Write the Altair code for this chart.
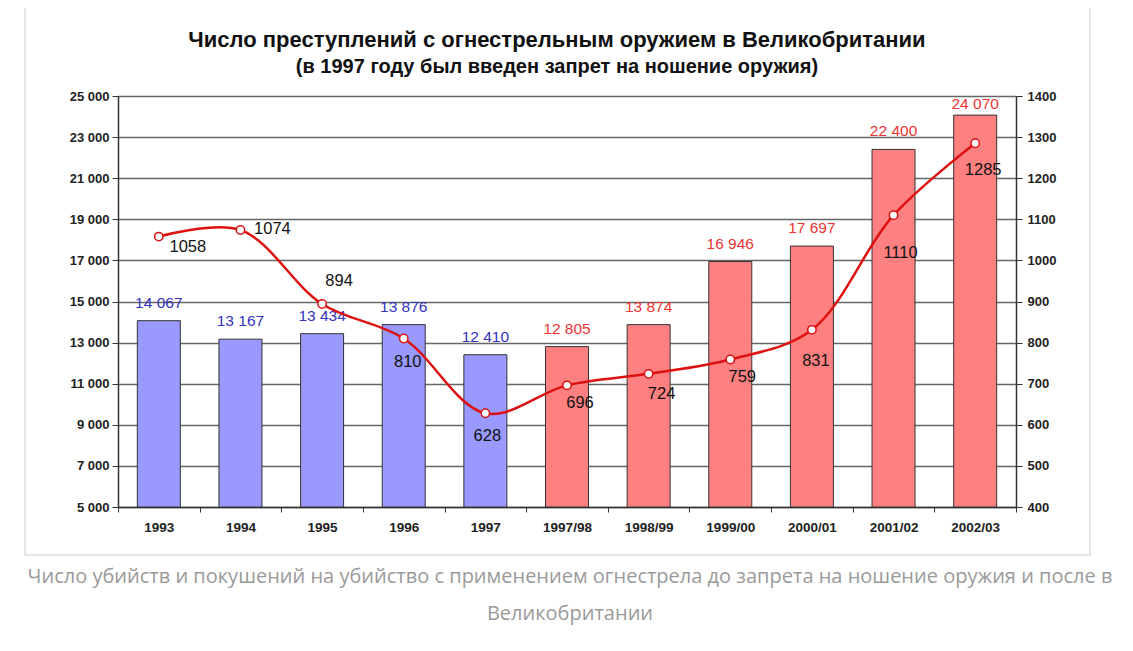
import altair as alt
import pandas as pd

periods = ["1993", "1994", "1995", "1996", "1997", "1997/98", "1998/99",
           "1999/00", "2000/01", "2001/02", "2002/03"]
offences = [14067, 13167, 13434, 13876, 12410, 12805, 13874, 16946, 17697, 22400, 24070]
homicides = [1058, 1074, 894, 810, 628, 696, 724, 759, 831, 1110, 1285]
phase = ["before"] * 5 + ["after"] * 6
left_ticks = list(range(5000, 25001, 2000))
right_ticks = list(range(400, 1401, 100))

title_lines = ["Число преступлений с огнестрельным оружием в Великобритании",
               "(в 1997 году был введен запрет на ношение оружия)"]
caption_lines = ["Число убийств и покушений на убийство с применением огнестрела до запрета на ношение оружия и после в",
                 "Великобритании"]

# label offsets (style config, not data)
line_label_offsets = {
    "1993": (29, 10), "1994": (32, -1), "1995": (17, -23), "1996": (4, 24),
    "1997": (2, 23), "1997/98": (13, 18), "1998/99": (13, 20), "1999/00": (12, 18),
    "2000/01": (4, 31), "2001/02": (7, 38), "2002/03": (8, 27),
}
bar_label_dy = {"default": -18, "2002/03": -11}

W, H = 898, 411
FONT = "Liberation Sans"

df = pd.DataFrame({
    "period": periods,
    "offences": offences,
    "homicides": homicides,
    "phase": phase,
})
df["offences_label"] = [f"{v:,}".replace(",", " ") for v in offences]
df["homicides_label"] = [str(v) for v in homicides]

x_enc = alt.X(
    "period:N", sort=periods,
    scale=alt.Scale(paddingInner=0, paddingOuter=0),
    axis=alt.Axis(title=None, labelAngle=0, tickBand="extent", grid=False,
                  labelFont=FONT, labelFontWeight="bold", labelFontSize=13.5,
                  labelColor="#222", domainColor="#333", tickColor="#333",
                  tickSize=5, labelPadding=8, domainWidth=1.5),
)

y_left = alt.Y(
    "offences:Q",
    scale=alt.Scale(domain=[5000, 25000], zero=False, nice=False),
    axis=alt.Axis(title=None, values=left_ticks, grid=True, gridColor="#666",
                  gridWidth=1.5, labelExpr="replace(format(datum.value, ','), ',', ' ')",
                  labelFont=FONT, labelFontWeight="bold", labelFontSize=13,
                  labelColor="#222", domainColor="#333", tickColor="#333",
                  tickSize=6, labelPadding=3, domainWidth=1.5),
)

y_right = alt.Y(
    "homicides:Q",
    scale=alt.Scale(domain=[400, 1400], zero=False, nice=False),
    axis=alt.Axis(title=None, orient="right", values=right_ticks, grid=False, format="d",
                  labelFont=FONT, labelFontWeight="bold", labelFontSize=13,
                  labelColor="#222", domainColor="#333", tickColor="#333",
                  tickSize=6, labelPadding=5, domainWidth=1.5),
)

base = alt.Chart(df)
one = pd.DataFrame({"a": [0]})

frame = alt.Chart(one).mark_rect(
    fill="white", fillOpacity=0, stroke="#dddddd", strokeWidth=1.5
).encode(x=alt.value(-93), x2=alt.value(972), y=alt.value(-120), y2=alt.value(459))

bars = base.mark_bar(size=43, stroke="#333", strokeWidth=1).encode(
    x=x_enc, y=y_left, y2=alt.datum(5000),
    color=alt.Color("phase:N", scale=alt.Scale(domain=["before", "after"],
                                               range=["#9999ff", "#ff8080"]),
                    legend=None),
)

special = [k for k in bar_label_dy if k != "default"]
bar_label_color = alt.condition(alt.datum.phase == "before", alt.value("#3333bb"),
                                alt.value("#ee3333"))
bar_labels = [
    base.transform_filter(~alt.FieldOneOfPredicate(field="period", oneOf=special)).mark_text(
        font=FONT, fontSize=15.5, baseline="middle", dy=bar_label_dy["default"]
    ).encode(x=x_enc, y=y_left, text="offences_label:N", color=bar_label_color)
] + [
    base.transform_filter(alt.datum.period == p).mark_text(
        font=FONT, fontSize=15.5, baseline="middle", dy=bar_label_dy[p]
    ).encode(x=x_enc, y=y_left, text="offences_label:N", color=bar_label_color)
    for p in special
]

title = [
    alt.Chart(pd.DataFrame({"t": [t]})).mark_text(
        font=FONT, fontSize=fs, fontWeight="bold", color="#111", align="center",
        baseline="middle"
    ).encode(text="t:N", x=alt.value(xx), y=alt.value(yy))
    for t, yy, fs, xx in zip(title_lines, [-56, -29], [22, 20], [439, 439])
]

caption = [
    alt.Chart(pd.DataFrame({"t": [t]})).mark_text(
        font="Open Sans", fontSize=20, color="#9a9a9a", align="center", baseline="middle"
    ).encode(text="t:N", x=alt.value(452), y=alt.value(yy))
    for t, yy in zip(caption_lines, [481, 518])
]

left = alt.layer(frame, bars, *bar_labels, *title, *caption)

line = base.mark_line(color="#dd1111", strokeWidth=2.5, interpolate="catmull-rom").encode(
    x=x_enc, y=y_right
)
points = base.mark_point(filled=True, fill="white", stroke="#dd1111", strokeWidth=1.5,
                         size=70, opacity=1).encode(x=x_enc, y=y_right)

line_labels = [
    base.transform_filter(alt.datum.period == p).mark_text(
        font=FONT, fontSize=16.5, color="#111", baseline="middle", dx=dx, dy=dy
    ).encode(x=x_enc, y=y_right, text="homicides_label:N")
    for p, (dx, dy) in line_label_offsets.items()
]

right = alt.layer(line, points, *line_labels)

chart = alt.layer(left, right).resolve_scale(y="independent").properties(
    width=W, height=H,
    autosize=alt.AutoSizeParams(type="none"),
    padding={"left": 110, "top": 88, "right": 100, "bottom": 130},
).configure_view(stroke=None)

chart.save("out.html", embed_options={"renderer": "svg", "actions": False})
